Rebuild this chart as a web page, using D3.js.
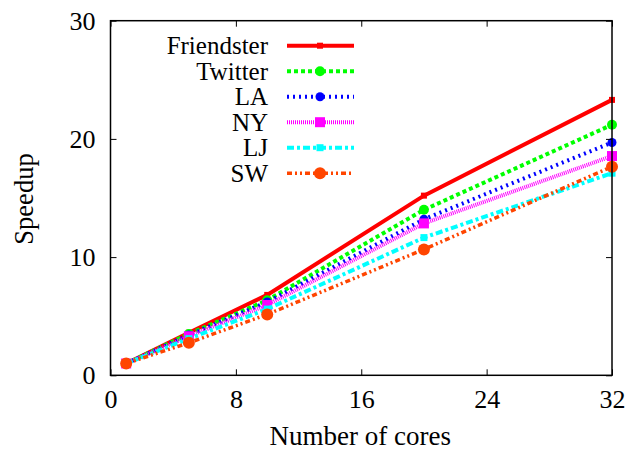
<!DOCTYPE html>
<html><head><meta charset="utf-8">
<script src="https://cdn.jsdelivr.net/npm/d3@7"></script>
<style>body{margin:0;background:#fff}svg{display:block}text{font-family:"Liberation Serif","Times New Roman",serif;fill:#000}</style>
</head><body><svg id="c" width="629" height="452"></svg>
<script>
const cores = [1, 5, 10, 20, 32];
const seriesNames = ["Friendster", "Twitter", "LA", "NY", "LJ", "SW"];
const friendster = [1, 3.6, 6.8, 15.2, 23.3];
const twitter = [1, 3.5, 6.35, 14.0, 21.2];
const la = [1, 3.4, 6.2, 13.2, 19.7];
const ny = [1, 3.3, 5.95, 12.85, 18.55];
const lj = [1, 3.1, 5.6, 11.65, 17.1];
const sw = [1, 2.75, 5.15, 10.65, 17.65];
const xTicks = [0, 8, 16, 24, 32];
const yTicks = [0, 10, 20, 30];

const values = [friendster, twitter, la, ny, lj, sw];
const styles = [
  {color:"#ff0000", dash:null, w:4, marker:"sq", ms:6},
  {color:"#00ff00", dash:"4,3", w:4, marker:"circle", ms:5},
  {color:"#0000ff", dash:"2,4", w:4, marker:"circle", ms:4.5},
  {color:"#ff00ff", dash:"1,1", w:4, marker:"sq", ms:10},
  {color:"#00ffff", dash:"7,3,3,3", w:4, marker:"sq", ms:7},
  {color:"#ff4500", dash:"5,3,2,3,2,3", w:3.5, marker:"circle", ms:6}
];

const svg = d3.select("#c");
const m = {l:110.5, r:612, t:20.7, b:375.3};
const x = d3.scaleLinear().domain([0,32]).range([m.l, m.r]);
const y = d3.scaleLinear().domain([0,30]).range([m.b, m.t]);

const line = d3.line().x((d,i)=>x(cores[i])).y(d=>y(d));

function marker(g, cx, cy, st){
  if(st.marker==="circle") g.append("circle").attr("cx",cx).attr("cy",cy).attr("r",st.ms).attr("fill",st.color);
  else g.append("rect").attr("x",cx-st.ms/2).attr("y",cy-st.ms/2).attr("width",st.ms).attr("height",st.ms).attr("fill",st.color);
}

const plot = svg.append("g");
values.forEach((vals,k)=>{
  const st = styles[k];
  plot.append("path").datum(vals).attr("d",line).attr("fill","none")
    .attr("stroke",st.color).attr("stroke-width",st.w)
    .attr("stroke-dasharray",st.dash);
  vals.forEach((v,i)=>marker(plot, x(cores[i]), y(v), st));
});

const axB = d3.axisBottom(x).tickValues(xTicks).tickSize(-6).tickPadding(14).tickFormat(d3.format("d"));
const axL = d3.axisLeft(y).tickValues(yTicks).tickSize(-6).tickPadding(15).tickFormat(d3.format("d"));
const gB = svg.append("g").attr("transform",`translate(0,${m.b})`).call(axB);
const gL = svg.append("g").attr("transform",`translate(${m.l},0)`).call(axL);
const gT = svg.append("g").attr("transform",`translate(0,${m.t})`).call(d3.axisTop(x).tickValues(xTicks).tickSize(-6).tickFormat(""));
const gR = svg.append("g").attr("transform",`translate(${m.r},0)`).call(d3.axisRight(y).tickValues(yTicks).tickSize(-6).tickFormat(""));
[gB,gL,gT,gR].forEach(g=>{
  g.select(".domain").remove();
  g.selectAll(".tick line").attr("stroke","#000").attr("stroke-width",1);
  g.selectAll("text").attr("font-family","Liberation Serif, serif").attr("font-size",26).attr("fill","#000");
});
gB.selectAll("text").attr("dy","0.71em");
svg.append("rect").attr("x",m.l).attr("y",m.t).attr("width",m.r-m.l).attr("height",m.b-m.t)
  .attr("fill","none").attr("stroke","#000").attr("stroke-width",1.5);

svg.append("text").attr("x",(m.l+m.r)/2 - 1).attr("y",445).attr("text-anchor","middle").attr("font-size",27).text("Number of cores");
svg.append("text").attr("transform","translate(33,199) rotate(-90)").attr("text-anchor","middle").attr("font-size",26.5).text("Speedup");

const leg = svg.append("g");
seriesNames.forEach((n,k)=>{
  const st = styles[k];
  const yy = 45.7 + k*25.5;
  leg.append("text").attr("x",268).attr("y",yy).attr("dy","0.35em").attr("text-anchor","end").attr("font-size",25).text(n);
  leg.append("line").attr("x1",287).attr("x2",354).attr("y1",yy).attr("y2",yy)
    .attr("stroke",st.color).attr("stroke-width",st.w).attr("stroke-dasharray",st.dash);
  marker(leg, 320, yy, st);
});
</script></body></html>
